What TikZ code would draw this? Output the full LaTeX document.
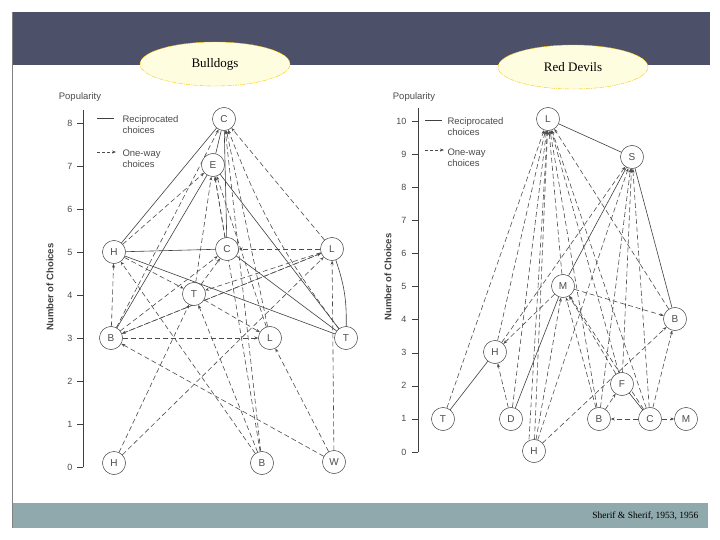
\documentclass[tikz,border=0pt]{standalone}
\usepackage{fontspec}
\setmainfont{Liberation Serif}
\newfontfamily\lab{Liberation Sans}
\usetikzlibrary{arrows.meta,shapes.geometric}
\begin{document}
\begin{tikzpicture}[x=1pt,y=-1pt,
 nd/.style={circle,draw=black!70,fill=white,minimum size=23pt,inner sep=0pt,font=\lab\fontsize{10}{10}\selectfont,text=black!70},
 rec/.style={draw=black!75,line width=0.6pt},
 ow/.style={draw=black!70,line width=0.6pt,dash pattern=on 5pt off 3pt,-{Stealth[length=4pt,width=3pt]}},
 tick/.style={font=\lab\fontsize{9}{9}\selectfont,text=black!70,anchor=east},
 leg/.style={font=\lab\fontsize{9.5}{11}\selectfont,text=black!70,anchor=west,align=left},
 ttl/.style={ellipse,draw=yellow!60!orange,dash pattern=on 4pt off 1pt on 1pt off 1pt,fill=yellow!12,minimum width=150pt,minimum height=44pt,font=\fontsize{13}{13}\selectfont}]
\useasboundingbox (0,0) rectangle (720,540);
\fill[white] (0,0) rectangle (720,540);
\fill[fill={rgb,255:red,76;green,80;blue,104}] (12,12) rectangle (710,65);
\fill[fill={rgb,255:red,143;green,169;blue,173}] (12,503) rectangle (708,528);
\draw[black!50] (12,12) -- (12,528);
\node[anchor=east,font=\fontsize{9.5}{10}\selectfont] (cite) at (702,516) {Sherif \& Sherif, 1953, 1956};
\node[ttl] (t1) at (215,64) {Bulldogs};
\node[ttl] (t2) at (573,67) {Red Devils};
% ---------- left axis
\draw[black!75,line width=0.7pt] (83,467) -- (83,110);
\node[font=\lab\fontsize{9.5}{10}\selectfont,text=black!70] (pop1) at (80,97) {Popularity};
\foreach \i in {0,...,8}{\draw[black!75] (77,{467-43*\i}) -- (83,{467-43*\i}); \node[tick] at (76,{467-43*\i}) {\i};}
\node[rotate=90,font=\lab\bfseries\fontsize{9.5}{10}\selectfont,text=black!75] (nc1) at (50,287) {Number of Choices};
\coordinate (lg1a) at (97,118); \coordinate (lg1b) at (114,118);
\draw[rec] (lg1a) -- (lg1b);
\node[leg] (lr1) at (119,125) {Reciprocated\\choices};
\coordinate (lg2a) at (97,152); \coordinate (lg2b) at (116,152);
\draw[ow,dash pattern=on 3pt off 2pt] (lg2a) -- (lg2b);
\node[leg] (lo1) at (119,159) {One-way\\choices};
% left nodes
\node[nd] (C8) at (224,119) {C};
\node[nd] (E7) at (213,165) {E};
\node[nd] (H5) at (114,252) {H};
\node[nd] (C5) at (227,249) {C};
\node[nd] (L5) at (332,249) {L};
\node[nd] (T4) at (194,294) {T};
\node[nd] (B3) at (111,338) {B};
\node[nd] (L3) at (270,338) {L};
\node[nd] (T3) at (346,338) {T};
\node[nd] (H0) at (114,463) {H};
\node[nd] (B0) at (262,463) {B};
\node[nd] (W0) at (334,462) {W};
\draw[rec] (C8) -- (H5);
\draw[rec] (C8) -- (E7);
\draw[rec] (E7) -- (B3);
\draw[rec] (E7) -- (T3);
\draw[rec] (H5) -- (C5);
\draw[rec] (H5) -- (T3);
\draw[rec] (C5) -- (T3);
\draw[rec] (L5) to[bend left=10] (T3);
\draw[rec] (C5) -- (C8);
\draw[ow] (H5) -- (E7);
\draw[ow] (B3) -- (H5);
\draw[ow] (B3) -- (C8);
\draw[ow] (B3) -- (C5);
\draw[ow] (B3) -- (L5);
\draw[ow] (B3) -- (L3);
\draw[ow] (H5) -- (T4);
\draw[ow] (T4) -- (L3);
\draw[ow] (T4) -- (E7);
\draw[ow] (T4) -- (C5);
\draw[ow] (L5) -- (C5);
\draw[ow] (L5) -- (T4);
\draw[ow] (L5) -- (C8);
\draw[ow] (L5) -- (B3);
\draw[ow] (L3) -- (C8);
\draw[ow] (L3) -- (E7);
\draw[ow] (C5) -- (E7);
\draw[ow] (B0) -- (H5);
\draw[ow] (B0) -- (T4);
\draw[ow] (B0) -- (C8);
\draw[ow] (B0) -- (E7);
\draw[ow] (W0) -- (L5);
\draw[ow] (W0) -- (L3);
\draw[ow] (W0) -- (B3);
\draw[ow] (H0) -- (T4);
\draw[ow] (H0) -- (L5);
\draw[ow] (T3) to[bend left=8] (C8);
\foreach \n/\t in {C8/C,E7/E,H5/H,C5/C,L5/L,T4/T,B3/B,L3/L,T3/T,H0/H,B0/B,W0/W}{\node[nd] at (\n) {\t};}
% ---------- right axis
\draw[black!75,line width=0.7pt] (418,452) -- (418,108);
\node[font=\lab\fontsize{9.5}{10}\selectfont,text=black!70] (pop2) at (414,97) {Popularity};
\foreach \i in {0,...,10}{\draw[black!75] (412,{452-33.1*\i}) -- (418,{452-33.1*\i}); \node[tick] at (410,{452-33.1*\i}) {\i};}
\node[rotate=90,font=\lab\bfseries\fontsize{9.5}{10}\selectfont,text=black!75] (nc2) at (388,277) {Number of Choices};
\coordinate (lg3a) at (425,120); \coordinate (lg3b) at (442,120);
\draw[rec] (lg3a) -- (lg3b);
\node[leg] (lr2) at (444,127) {Reciprocated\\choices};
\coordinate (lg4a) at (425,150); \coordinate (lg4b) at (444,150);
\draw[ow,dash pattern=on 3pt off 2pt] (lg4a) -- (lg4b);
\node[leg] (lo2) at (444,158) {One-way\\choices};
\node[nd] (rL) at (548,119) {L};
\node[nd] (rS) at (632,157) {S};
\node[nd] (rM) at (563,286) {M};
\node[nd] (rB4) at (675,319) {B};
\node[nd] (rH3) at (495,352) {H};
\node[nd] (rF) at (622,384) {F};
\node[nd] (rT) at (443,419) {T};
\node[nd] (rD) at (511,419) {D};
\node[nd] (rB1) at (599,419) {B};
\node[nd] (rC) at (650,419) {C};
\node[nd] (rM1) at (686,419) {M};
\node[nd] (rH0) at (534,451) {H};
\draw[rec] (rL) -- (rS);
\draw[rec] (rS) -- (rB4);
\draw[rec] (rT) -- (rH3);
\draw[rec] (rM) -- (rS);
\draw[rec] (rD) -- (rM);
\draw[rec] (rF) -- (rC);
\draw[ow] (rC) -- (rB1);
\draw[ow] (rC) -- (rM1);
\draw[ow] (rT) -- (rL);
\draw[ow] (rH3) -- (rL);
\draw[ow] (rH3) -- (rS);
\draw[ow] (rM) -- (rH3);
\draw[ow] (rD) -- (rH3);
\draw[ow] (rD) -- (rL);
\draw[ow] (rM) -- (rL);
\draw[ow] (rM) -- (rB4);
\draw[ow] (rH0) -- (rL);
\draw[ow] ([xshift=-5pt]rH0.north) -- (rL);
\draw[ow] (rH0) -- (rM);
\draw[ow] (rH0) -- (rS);
\draw[ow] (rH0) -- (rB4);
\draw[ow] (rB1) -- (rL);
\draw[ow] (rB1) -- (rM);
\draw[ow] (rB1) -- (rS);
\draw[ow] (rB1) -- (rF);
\draw[ow] (rF) -- (rL);
\draw[ow] (rF) -- (rM);
\draw[ow] (rF) -- (rS);
\draw[ow] (rC) -- (rL);
\draw[ow] (rC) -- (rS);
\draw[ow] (rC) -- (rB4);
\draw[ow] (rC) -- (rM);
\draw[ow] (rB4) -- (rL);
\foreach \n/\t in {rL/L,rS/S,rM/M,rB4/B,rH3/H,rF/F,rT/T,rD/D,rB1/B,rC/C,rM1/M,rH0/H}{\node[nd] at (\n) {\t};}
\end{tikzpicture}
\end{document}
